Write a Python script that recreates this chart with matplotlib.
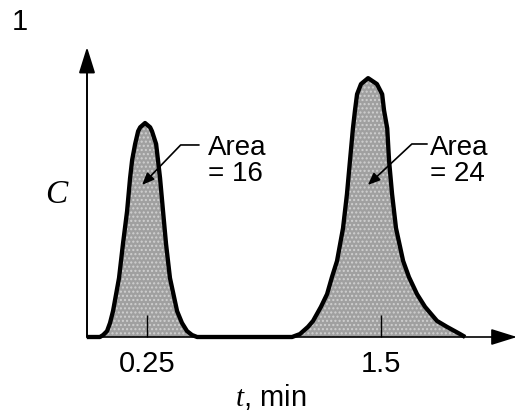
import matplotlib.pyplot as plt

plt.rcParams['font.family'] = ['Liberation Sans', 'DejaVu Sans']
plt.rcParams['mathtext.fontset'] = 'custom'
plt.rcParams['mathtext.it'] = 'Liberation Serif:italic'
plt.rcParams['mathtext.rm'] = 'Liberation Sans'

# concentration trace (t in min, C arbitrary units)
t_vals = [-0.07, 0.00, 0.017, 0.038, 0.054, 0.070, 0.102, 0.123, 0.145, 0.161, 0.172,
          0.188, 0.204, 0.215, 0.241, 0.268, 0.278, 0.300, 0.310, 0.321, 0.337, 0.353,
          0.374, 0.412, 0.438, 0.465, 0.492, 0.519,
          1.026, 1.068, 1.111, 1.138, 1.180, 1.213, 1.239, 1.266, 1.298, 1.319, 1.335,
          1.351, 1.362, 1.373, 1.394, 1.432, 1.479, 1.507, 1.517, 1.534, 1.544, 1.560,
          1.581, 1.619, 1.650, 1.693, 1.736, 1.800, 1.853, 1.923, 1.950]
c_vals = [0, 0, 0.6, 1.8, 4.3, 7.9, 18.0, 28.4, 38.4, 48.5, 54.0,
          58.9, 62.8, 64.0, 65.3, 64.0, 62.8, 58.9, 54.0, 48.5, 38.4, 28.4,
          18.0, 7.9, 4.3, 1.8, 0.6, 0,
          0, 0.9, 3.1, 4.9, 9.2, 13.1, 18.3, 23.2, 33.2, 43.6, 53.7,
          63.7, 69.2, 74.1, 77.2, 79.0, 77.2, 74.1, 69.2, 63.7, 53.7, 43.6,
          33.2, 23.2, 18.3, 13.1, 9.2, 4.9, 3.1, 0.9, 0]

tick_pos = [0.25, 1.5]
tick_lbl = ['0.25', '1.5']
areas = [16, 24]
arrow_tips = [(0.225, 46.4), (1.431, 46.4)]

fig = plt.figure(figsize=(5.18, 4.12), dpi=100)
ax = fig.add_axes([87/518, 75/412, 430/518, 290/412])

ax.fill_between(t_vals, c_vals, facecolor='#a0a0a0', edgecolor='#d0d0d0',
                hatch='....', linewidth=0, zorder=1)
ax.plot(t_vals, c_vals, color='black', lw=3.1, solid_capstyle='butt',
        solid_joinstyle='round', clip_on=False, zorder=3)

ax.set_xlim(-0.069, 2.227)
ax.set_ylim(0, 88.5)
for s in ax.spines.values():
    s.set_visible(False)

# axes with arrow heads
ax.annotate('', xy=(1, 0), xytext=(0, 0), xycoords='axes fraction',
            arrowprops=dict(arrowstyle='-|>,head_length=0.8,head_width=0.25',
                            mutation_scale=20, color='black', lw=1.2,
                            shrinkA=0, shrinkB=0), zorder=2)
ax.annotate('', xy=(0, 1), xytext=(0, 0), xycoords='axes fraction',
            arrowprops=dict(arrowstyle='-|>,head_length=0.8,head_width=0.25',
                            mutation_scale=20, color='black', lw=1.4,
                            shrinkA=0, shrinkB=0), zorder=2)

ax.set_xticks(tick_pos)
ax.set_xticklabels(tick_lbl)
ax.set_yticks([])
ax.tick_params(axis='x', direction='in', length=16, width=1, pad=9, labelsize=21)

ax.set_xlabel('$t$, min', fontsize=21)
ax.xaxis.set_label_coords((271-87)/430, -0.155)
ax.set_ylabel('$C$', fontsize=24, rotation=0, va='center', ha='center')
ax.yaxis.set_label_coords(-0.07, 0.49)

# area labels with leader arrows
label_pos = [(0.578, 53.7), (1.763, 53.7)]
lead_start = [(0.529, 58.6), (1.747, 58.9)]
lead_ang = [46, 43]
for a, tip, lp, ls, ang in zip(areas, arrow_tips, label_pos, lead_start, lead_ang):
    ax.text(lp[0], lp[1], 'Area\n= %d' % a, fontsize=20, ha='left', va='center',
            linespacing=1.0)
    ax.annotate('', xy=tip, xytext=ls,
                arrowprops=dict(arrowstyle='-|>,head_length=0.6,head_width=0.25',
                                mutation_scale=12, color='black', lw=1.2,
                                connectionstyle='angle,angleA=0,angleB=%d,rad=0' % ang,
                                shrinkA=0, shrinkB=0), zorder=4)

fig.text(12/518, 1 - 22/412, '1', fontsize=21, ha='left', va='center')

plt.savefig('out.png', dpi=100)
